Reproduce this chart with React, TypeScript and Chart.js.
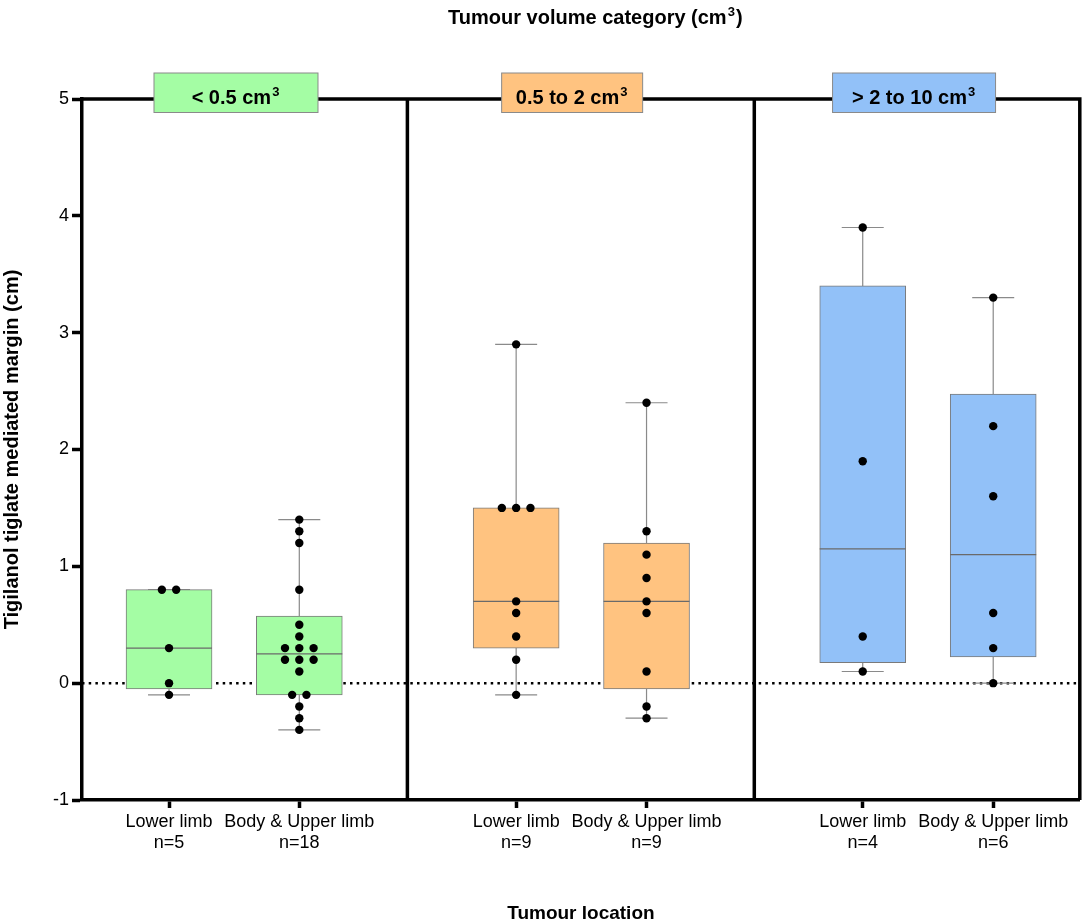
import { useEffect, useRef } from "react"
import { Chart, registerables } from "chart.js"

Chart.register(...registerables)

const FONT = '"Liberation Sans", Arial, Helvetica, sans-serif'

// tumour volume categories (panel headers); the superscript "3" is drawn after the text
const volumeLabels = ["< 0.5 cm", "0.5 to 2 cm", "> 2 to 10 cm"]
const volumeColors = ["#a4fda4", "#ffc380", "#92c1f8"]

// one entry per box, left to right
const locations = ["Lower limb", "Body & Upper limb", "Lower limb", "Body & Upper limb", "Lower limb", "Body & Upper limb"]
const groupVolume = [0, 0, 1, 1, 2, 2]
const counts = [5, 18, 9, 9, 4, 6]
const q1 = [-0.05, -0.1, 0.3, -0.05, 0.175, 0.225]
const medians = [0.3, 0.25, 0.7, 0.7, 1.15, 1.1]
const q3 = [0.8, 0.575, 1.5, 1.2, 3.4, 2.475]

// individual margins (cm)
const margins: number[][] = [
  [0.8, 0.8, 0.3, 0, -0.1],
  [1.4, 1.3, 1.2, 0.8, 0.5, 0.4, 0.3, 0.3, 0.3, 0.2, 0.2, 0.2, 0.1, -0.1, -0.1, -0.2, -0.3, -0.4],
  [2.9, 1.5, 1.5, 1.5, 0.7, 0.6, 0.4, 0.2, -0.1],
  [2.4, 1.3, 1.1, 0.9, 0.7, 0.6, 0.1, -0.2, -0.3],
  [3.9, 1.9, 0.4, 0.1],
  [3.3, 2.2, 1.6, 0.6, 0.3, 0],
]

const yMin = -1
const yMax = 5

// layout: positions on the x axis (0..9)
const slotX = [0.785, 1.96, 3.916, 5.092, 7.042, 8.219]
const dividerX = [2.935, 6.064]
const headerX = [1.389, 4.421, 7.505]
const headerW = [164, 141, 163]
const titleX = 4.63
const DOT_GAP = 0.129
const CAP_W = 42

// spread identical values side by side (beeswarm)
function swarm(values: number[]) {
  const total = new Map<number, number>()
  const seen = new Map<number, number>()
  values.forEach((v) => total.set(v, (total.get(v) ?? 0) + 1))
  return values.map((v) => {
    const k = seen.get(v) ?? 0
    seen.set(v, k + 1)
    return k - ((total.get(v) ?? 1) - 1) / 2
  })
}

function supText(ctx: CanvasRenderingContext2D, base: string, sup: string, after: string, cx: number, baseline: number, size: number) {
  const big = `bold ${size}px ${FONT}`
  const small = `bold ${Math.round(size * 0.65)}px ${FONT}`
  ctx.font = big
  const w1 = ctx.measureText(base).width
  const w3 = ctx.measureText(after).width
  ctx.font = small
  const w2 = ctx.measureText(sup).width
  const left = cx - (w1 + w2 + w3 + 2) / 2
  ctx.textAlign = "left"
  ctx.textBaseline = "alphabetic"
  ctx.fillStyle = "#000"
  ctx.font = big
  ctx.fillText(base, left, baseline)
  ctx.font = small
  ctx.fillText(sup, left + w1 + 1, baseline - size * 0.42)
  ctx.font = big
  ctx.fillText(after, left + w1 + w2 + 2, baseline)
}

const boxPlugin = {
  id: "boxExtras",
  beforeDatasetsDraw(chart: any) {
    const { ctx, chartArea: a, scales } = chart
    const x = scales.x
    const y = scales.y
    ctx.save()

    // dotted zero line
    const y0 = y.getPixelForValue(0)
    ctx.strokeStyle = "#000"
    ctx.lineWidth = 2.5
    ctx.setLineDash([2.5, 4.2])
    ctx.beginPath()
    ctx.moveTo(a.left, y0)
    ctx.lineTo(a.right, y0)
    ctx.stroke()
    ctx.setLineDash([])

    // frame and panel dividers
    ctx.lineWidth = 3.5
    ctx.beginPath()
    ctx.moveTo(a.left, a.top)
    ctx.lineTo(a.right, a.top)
    ctx.lineTo(a.right, a.bottom)
    dividerX.forEach((d) => {
      const px = x.getPixelForValue(d)
      ctx.moveTo(px, a.top)
      ctx.lineTo(px, a.bottom)
    })
    ctx.stroke()

    // whiskers with caps
    ctx.strokeStyle = "#8a8a8a"
    ctx.lineWidth = 1.2
    margins.forEach((vals, i) => {
      const px = x.getPixelForValue(slotX[i])
      const lo = y.getPixelForValue(Math.min(...vals))
      const hi = y.getPixelForValue(Math.max(...vals))
      ctx.beginPath()
      ctx.moveTo(px, lo)
      ctx.lineTo(px, y.getPixelForValue(q1[i]))
      ctx.moveTo(px, y.getPixelForValue(q3[i]))
      ctx.lineTo(px, hi)
      ctx.moveTo(px - CAP_W / 2, lo)
      ctx.lineTo(px + CAP_W / 2, lo)
      ctx.moveTo(px - CAP_W / 2, hi)
      ctx.lineTo(px + CAP_W / 2, hi)
      ctx.stroke()
    })
    ctx.restore()
  },
  afterDatasetDraw(chart: any, args: any) {
    if (args.index !== 1) return
    const { ctx, scales } = chart
    const bars = chart.getDatasetMeta(1).data
    ctx.save()
    ctx.strokeStyle = "#6a6a6a"
    ctx.lineWidth = 1.2
    medians.forEach((m, i) => {
      const bar = bars[i]
      const py = scales.y.getPixelForValue(m)
      ctx.beginPath()
      ctx.moveTo(bar.x - bar.width / 2, py)
      ctx.lineTo(bar.x + bar.width / 2, py)
      ctx.stroke()
    })
    ctx.restore()
  },
  afterDraw(chart: any) {
    const { ctx, chartArea: a, scales } = chart
    const x = scales.x
    ctx.save()
    // panel headers
    volumeLabels.forEach((label, i) => {
      const cx = x.getPixelForValue(headerX[i])
      const w = headerW[i]
      ctx.fillStyle = volumeColors[i]
      ctx.fillRect(cx - w / 2, a.top - 26, w, 39.5)
      ctx.strokeStyle = "#8a8a8a"
      ctx.lineWidth = 1
      ctx.strokeRect(cx - w / 2, a.top - 26, w, 39.5)
      supText(ctx, label, "3", "", cx, a.top + 5, 20)
    })
    // overall title
    supText(ctx, "Tumour volume category (cm", "3", ")", x.getPixelForValue(titleX), 24.3, 20)
    ctx.restore()
  },
}

export default function App() {
  const canvasRef = useRef<HTMLCanvasElement>(null)
  const chartRef = useRef<Chart | null>(null)

  useEffect(() => {
    if (!canvasRef.current) return
    if (chartRef.current) chartRef.current.destroy()

    const boxes = slotX.map((x, i) => ({ x, y: [q1[i], q3[i]] }))
    const dots = margins.flatMap((vals, i) =>
      swarm(vals).map((k, j) => ({ x: slotX[i] + k * DOT_GAP, y: vals[j] })),
    )

    chartRef.current = new Chart(canvasRef.current, {
      type: "scatter",
      data: {
        datasets: [
          {
            type: "scatter",
            data: dots,
            pointRadius: 4.2,
            pointBackgroundColor: "#000",
            pointBorderColor: "#000",
            pointBorderWidth: 0,
            pointHoverRadius: 4.2,
          },
          {
            type: "bar",
            data: boxes as any,
            backgroundColor: groupVolume.map((v) => volumeColors[v]),
            borderColor: "#7a7a7a",
            borderWidth: 1,
            borderSkipped: false,
            barThickness: 86,
            grouped: false,
          } as any,
        ],
      },
      options: {
        animation: false,
        responsive: true,
        maintainAspectRatio: false,
        layout: { padding: { top: 99, right: 4, left: 0, bottom: 0 } },
        plugins: {
          legend: { display: false },
          tooltip: { enabled: false },
        },
        scales: {
          x: {
            type: "linear",
            min: 0,
            max: 9,
            offset: false,
            afterBuildTicks: (s: any) => {
              s.ticks = slotX.map((value) => ({ value }))
            },
            afterFit: (s: any) => {
              s.height = 122
            },
            grid: {
              display: true,
              drawOnChartArea: false,
              drawTicks: true,
              tickLength: 8,
              tickWidth: 3.5,
              tickColor: "#000",
              color: "#000",
              offset: false,
            },
            border: { display: true, color: "#000", width: 3.5 },
            ticks: {
              autoSkip: false,
              maxRotation: 0,
              minRotation: 0,
              color: "#000",
              padding: 3,
              font: { family: FONT, size: 18 },
              callback: (_v: any, i: number) => [locations[i], `n=${counts[i]}`],
            },
            title: {
              display: true,
              text: "Tumour location",
              color: "#000",
              padding: 0,
              font: { family: FONT, size: 19, weight: "bold", lineHeight: 0.9 },
            },
          },
          y: {
            min: yMin,
            max: yMax,
            afterFit: (s: any) => {
              s.width = 82
            },
            ticks: {
              stepSize: 1,
              color: "#000",
              padding: 3,
              font: { family: FONT, size: 18 },
            },
            grid: {
              drawOnChartArea: false,
              drawTicks: true,
              tickLength: 10,
              tickWidth: 3.5,
              tickColor: "#000",
              color: "#000",
            },
            border: { display: true, color: "#000", width: 3.5 },
            title: {
              display: true,
              text: "Tigilanol tiglate mediated margin (cm)",
              color: "#000",
              padding: 0,
              font: { family: FONT, size: 20, weight: "bold" },
            },
          },
        },
      } as any,
      plugins: [boxPlugin],
    })

    return () => {
      if (chartRef.current) {
        chartRef.current.destroy()
        chartRef.current = null
      }
    }
  }, [])

  return (
    <div style={{ position: "absolute", left: 0, top: 0, width: 1084, height: 922, background: "#fff" }}>
      <canvas ref={canvasRef} />
    </div>
  )
}
